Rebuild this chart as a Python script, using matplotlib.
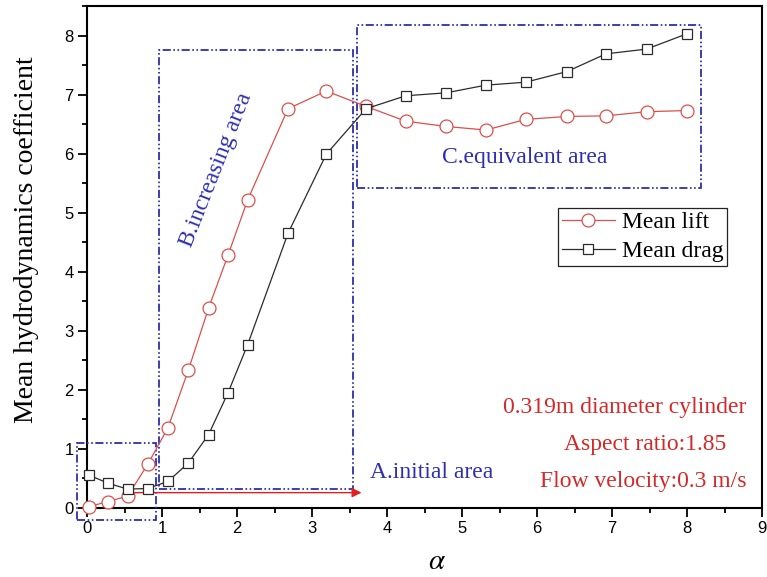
import matplotlib
matplotlib.use("Agg")
import matplotlib.pyplot as plt
from matplotlib.patches import Rectangle
from matplotlib.ticker import MultipleLocator

plt.rcParams["mathtext.fontset"] = "stix"

# Relative amplitude alpha and mean force coefficients
alpha = [0.02, 0.28, 0.54, 0.81, 1.08, 1.35, 1.62, 1.88, 2.14, 2.68,
         3.19, 3.72, 4.25, 4.79, 5.32, 5.85, 6.40, 6.92, 7.46, 8.00]
mean_lift = [0.02, 0.11, 0.20, 0.74, 1.36, 2.33, 3.38, 4.28, 5.21, 6.76,
             7.06, 6.80, 6.55, 6.46, 6.40, 6.58, 6.63, 6.64, 6.71, 6.73]
mean_drag = [0.56, 0.42, 0.32, 0.33, 0.45, 0.76, 1.24, 1.95, 2.76, 4.65,
             5.99, 6.76, 6.98, 7.03, 7.16, 7.21, 7.39, 7.69, 7.77, 8.03]

# Region outlines: (x0, y0, x1, y1) in data units
region_a = (-0.13, -0.21, 0.92, 1.10)
region_b = (0.96, 0.33, 3.55, 7.75)
region_c = (3.60, 5.41, 8.19, 8.17)

serif = "Liberation Serif"
sans = "Liberation Sans"
blue = "#2e2eb0"
red_txt = "#d22a2a"
lift_col = "#d9504c"
drag_col = "#2b2b2b"

fig = plt.figure(figsize=(7.67, 5.77), dpi=100)
ax = fig.add_axes([87 / 767, 1 - 508 / 577, 675 / 767, 502 / 577])

ax.plot(alpha, mean_lift, color=lift_col, lw=0.9, marker="o", ms=9.3,
        mfc="white", mec=lift_col, mew=0.9, label="Mean lift", clip_on=False, zorder=4)
ax.plot(alpha, mean_drag, color=drag_col, lw=0.9, marker="s", ms=7.6,
        mfc="white", mec=drag_col, mew=0.9, label="Mean drag", clip_on=False, zorder=5)

dash = (0, (4.5, 1.4, 0.9, 1.4, 0.9, 1.4))
for x0, y0, x1, y1 in (region_a, region_b, region_c):
    ax.add_patch(Rectangle((x0, y0), x1 - x0, y1 - y0, fill=False,
                           edgecolor=blue, lw=1.3, ls=dash, clip_on=False, zorder=3))

ax.annotate("", xy=(3.66, 0.26), xytext=(0.55, 0.26),
            arrowprops=dict(arrowstyle="-|>", color="#e02020", lw=1.0,
                            mutation_scale=14, shrinkA=0, shrinkB=0), zorder=3)

ax.text(4.60, 0.60, "A.initial area", color=blue, fontsize=17, family=serif,
        ha="center", va="center")
ax.text(1.72, 5.72, "B.increasing area", color=blue, fontsize=17, family=serif,
        ha="center", va="center", rotation=68.5)
ax.text(5.83, 5.94, "C.equivalent area", color=blue, fontsize=17, family=serif,
        ha="center", va="center")

ax.text(7.17, 1.71, "0.319m diameter cylinder", color=red_txt, fontsize=17,
        family=serif, ha="center", va="center")
ax.text(7.44, 1.07, "Aspect ratio:1.85", color=red_txt, fontsize=17,
        family=serif, ha="center", va="center")
ax.text(7.42, 0.45, "Flow velocity:0.3 m/s", color=red_txt, fontsize=17,
        family=serif, ha="center", va="center")

ax.set_xlim(0, 9)
ax.set_ylim(0, 8.5)
ax.xaxis.set_major_locator(MultipleLocator(1))
ax.xaxis.set_minor_locator(MultipleLocator(0.5))
ax.yaxis.set_major_locator(MultipleLocator(1))
ax.yaxis.set_minor_locator(MultipleLocator(0.5))
ax.tick_params(which="both", direction="out", width=1.3, colors="black",
               top=False, right=False)
ax.tick_params(which="major", length=6.5, labelsize=12, pad=3)
ax.tick_params(which="minor", length=3.5)
for lab in ax.get_xticklabels() + ax.get_yticklabels():
    lab.set_family(sans)
for sp in ax.spines.values():
    sp.set_linewidth(1.5)

ax.set_xlabel(r"$\alpha$", fontsize=21)
ax.xaxis.set_label_coords(0.518, -0.078)
ax.set_ylabel("Mean hydrodynamics coefficient", fontsize=20, family=serif)
ax.yaxis.set_label_coords(-0.071, 0.535)

leg = ax.legend(loc="upper left", bbox_to_anchor=(0.698, 0.597),
                prop={"family": serif, "size": 17}, frameon=True, fancybox=False,
                edgecolor="#222222", framealpha=1, borderpad=0.15,
                handlelength=2.25, handletextpad=0.3, labelspacing=0.32,
                borderaxespad=0)
leg.get_frame().set_linewidth(0.9)

fig.savefig("out.png", dpi=100)
